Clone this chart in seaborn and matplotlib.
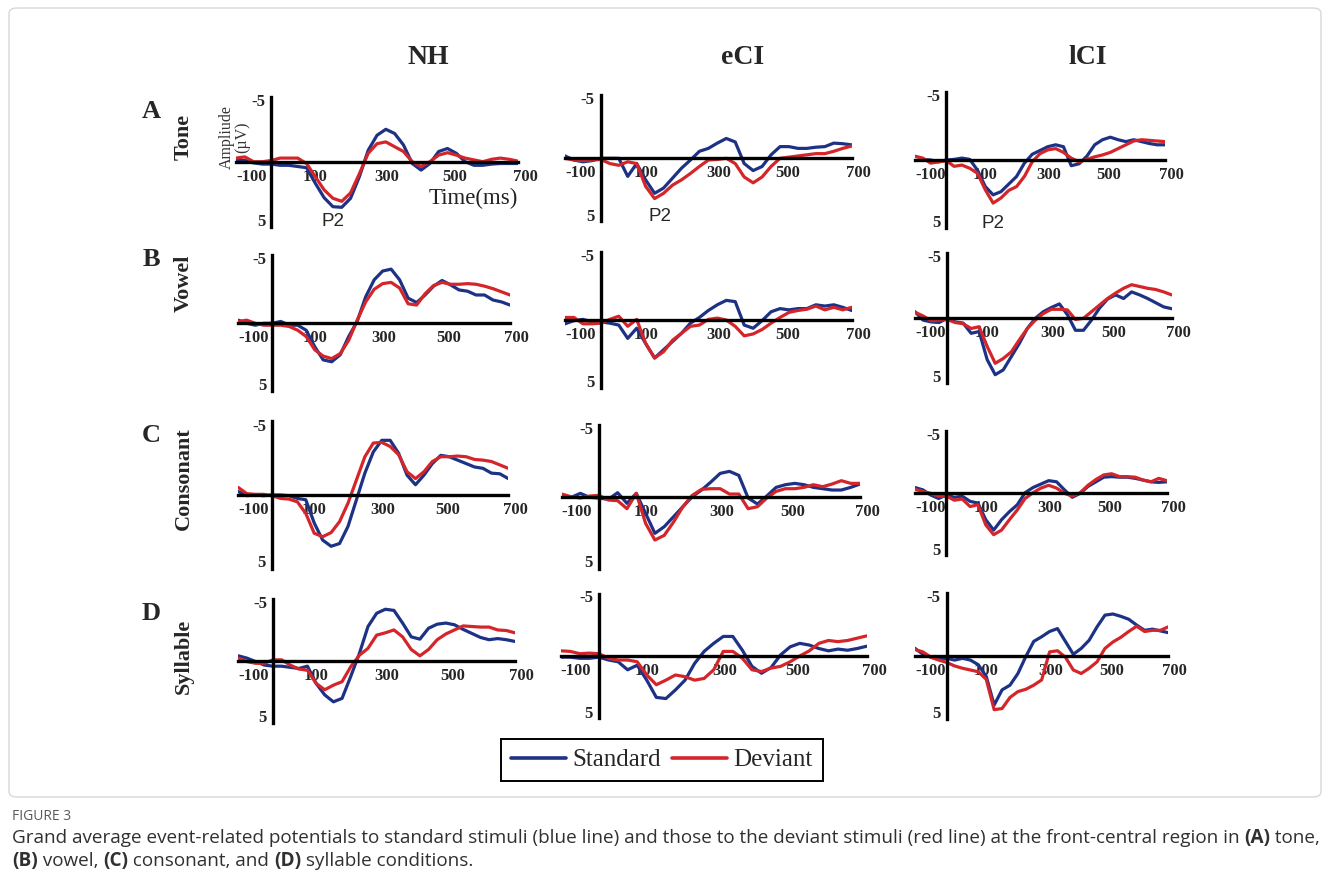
import pandas as pd
import seaborn as sns
import matplotlib.pyplot as plt
from matplotlib.lines import Line2D
from matplotlib.patches import FancyBboxPatch

# time axis of every waveform (ms)
times = list(range(-100, 701, 25))

# grand averages in µV (negative is drawn upward)
nh_tone_std = [-0.1, -0.1, 0.1, 0.2, 0.2, 0.3, 0.3, 0.4, 0.5, 1.8, 3.0, 3.75, 3.8, 3.05, 1.25, -0.95, -2.2,
               -2.7, -2.35, -1.4, 0.15, 0.7, 0.15, -0.85, -1.1, -0.7, 0.0, 0.3, 0.3, 0.2, 0.15, 0.15, 0.15]
nh_tone_dev = [-0.3, -0.4, 0.0, 0.0, -0.1, -0.3, -0.3, -0.3, 0.15, 1.25, 2.35, 3.05, 3.3, 2.6, 1.0, -0.7, -1.5,
               -1.65, -1.25, -0.85, 0.0, 0.4, 0.0, -0.55, -0.75, -0.55, -0.3, -0.15, 0.0, -0.2, -0.3, -0.2, -0.05]
eci_tone_std = [-0.2, 0.15, 0.3, 0.2, 0.0, 0.0, 0.0, 1.55, 0.45, 1.85, 3.0, 2.55, 1.7, 0.85, 0.15, -0.6, -0.85,
                -1.3, -1.7, -1.4, 0.45, 1.05, 0.7, -0.3, -1.0, -1.0, -0.85, -0.85, -0.95, -1.0, -1.3, -1.25, -1.15]
eci_tone_dev = [0.0, 0.15, 0.2, 0.15, 0.1, 0.45, 0.6, 0.3, 0.45, 2.4, 3.45, 3.0, 2.3, 1.85, 1.3, 0.7, 0.15,
                0.1, 0.0, 0.45, 1.6, 2.1, 1.6, 0.7, 0.0, -0.1, -0.2, -0.3, -0.4, -0.4, -0.6, -0.85, -1.05]
lci_tone_std = [0.05, -0.05, 0.0, 0.15, 0.0, -0.05, -0.15, -0.05, 0.8, 2.1, 2.75, 2.5, 1.9, 1.3, 0.25, -0.45, -0.75,
                -1.05, -1.2, -1.05, 0.45, 0.3, -0.3, -1.2, -1.6, -1.8, -1.6, -1.45, -1.6, -1.45, -1.3, -1.2, -1.2]
lci_tone_dev = [-0.3, -0.15, 0.25, 0.15, 0.05, 0.5, 0.4, 0.65, 1.05, 2.35, 3.4, 3.0, 2.4, 2.1, 1.3, 0.15, -0.5,
                -0.8, -0.9, -0.6, -0.15, 0.15, -0.05, -0.25, -0.4, -0.6, -0.9, -1.2, -1.5, -1.6, -1.55, -1.5, -1.45]

nh_vowel_std = [-0.2, 0.05, 0.2, 0.05, 0.05, -0.1, 0.2, 0.2, 0.6, 1.9, 2.95, 3.1, 2.55, 1.1, -0.1, -2.05, -3.4,
                -4.1, -4.25, -3.4, -1.95, -1.6, -2.2, -2.9, -3.35, -3.0, -2.6, -2.5, -2.2, -2.2, -1.8, -1.65, -1.4]
nh_vowel_dev = [-0.1, -0.2, 0.05, 0.2, 0.2, 0.2, 0.3, 0.6, 1.1, 2.15, 2.65, 2.85, 2.45, 1.4, -0.2, -1.65, -2.65,
                -3.1, -3.2, -2.75, -1.5, -1.4, -2.3, -2.95, -3.2, -3.05, -3.05, -3.1, -3.05, -2.9, -2.7, -2.45, -2.2]
eci_vowel_std = [0.3, 0.05, -0.05, 0.15, 0.15, 0.25, 0.4, 1.45, 0.65, 1.85, 3.0, 2.35, 1.7, 1.05, 0.25, -0.2, -0.75,
                 -1.2, -1.55, -1.45, 0.4, 0.65, 0.05, -0.65, -0.9, -0.8, -0.9, -0.9, -1.2, -1.1, -1.2, -1.0, -0.75]
eci_vowel_dev = [-0.2, -0.2, 0.3, 0.3, 0.25, -0.05, -0.3, 0.5, -0.05, 1.85, 3.0, 2.5, 1.6, 1.05, 0.5, 0.4, -0.05,
                 -0.15, 0.0, 0.5, 1.25, 1.1, 0.75, 0.25, -0.2, -0.6, -0.75, -0.85, -1.1, -0.8, -1.0, -0.8, -1.0]
lci_vowel_std = [-0.55, 0.15, 0.3, 0.35, 0.0, 0.3, 0.4, 1.25, 1.1, 3.45, 4.7, 4.3, 3.2, 2.1, 0.85, 0.0, -0.55,
                 -0.9, -1.2, -0.3, 1.0, 1.0, 0.15, -0.85, -1.6, -1.95, -1.65, -2.2, -1.95, -1.65, -1.3, -0.95, -0.8]
lci_vowel_dev = [-0.5, -0.2, 0.2, 0.15, 0.1, 0.35, 0.45, 0.85, 0.7, 2.35, 3.75, 3.35, 2.8, 1.8, 0.85, 0.15, -0.4,
                 -0.75, -0.75, -0.7, 0.1, 0.0, -0.55, -1.1, -1.65, -2.1, -2.5, -2.8, -2.65, -2.5, -2.4, -2.2, -1.95]

nh_cons_std = [-0.25, 0.05, 0.0, 0.05, 0.0, 0.0, 0.05, 0.25, 0.35, 2.05, 3.3, 3.75, 3.55, 2.3, 0.35, -1.6, -3.15,
               -4.0, -4.0, -3.05, -1.45, -0.75, -1.45, -2.3, -2.9, -2.8, -2.55, -2.3, -2.05, -1.95, -1.6, -1.55, -1.2]
nh_cons_dev = [-0.55, -0.1, -0.05, -0.05, 0.05, 0.25, 0.3, 0.5, 1.35, 2.8, 3.05, 2.75, 1.95, 0.6, -1.1, -2.8, -3.8,
               -3.85, -3.55, -2.95, -1.7, -1.2, -1.7, -2.45, -2.8, -2.8, -2.85, -2.8, -2.6, -2.55, -2.45, -2.2, -1.95]
eci_cons_std = [-0.05, 0.05, -0.25, 0.05, 0.1, 0.2, -0.3, 0.5, -0.25, 1.25, 2.75, 2.25, 1.5, 0.75, 0.0, -0.5, -1.1,
                -1.75, -1.9, -1.6, 0.1, 0.55, -0.05, -0.7, -0.9, -1.0, -0.9, -0.7, -0.6, -0.5, -0.5, -0.7, -0.95]
eci_cons_dev = [-0.2, 0.0, 0.1, -0.05, -0.1, 0.25, 0.3, 0.9, -0.25, 2.0, 3.25, 2.9, 1.9, 0.75, -0.1, -0.55, -0.6,
                -0.6, -0.2, -0.2, 0.9, 0.75, 0.1, -0.4, -0.6, -0.6, -0.7, -0.9, -0.75, -0.95, -1.2, -1.0, -1.0]
lci_cons_std = [-0.5, -0.3, 0.15, 0.45, 0.15, 0.35, 0.25, 0.7, 0.85, 2.3, 3.2, 2.3, 1.6, 1.0, -0.05, -0.5, -0.8,
                -1.1, -1.0, -0.3, 0.35, 0.0, -0.6, -1.0, -1.4, -1.45, -1.4, -1.4, -1.3, -1.15, -1.0, -0.95, -1.0]
lci_cons_dev = [-0.35, -0.15, 0.0, 0.25, 0.25, 0.6, 0.5, 1.15, 1.0, 2.75, 3.6, 3.2, 2.3, 1.45, 0.45, -0.05, -0.45,
                -0.7, -0.45, 0.0, 0.25, -0.05, -0.7, -1.2, -1.6, -1.7, -1.45, -1.45, -1.4, -1.15, -1.0, -1.3, -1.1]

nh_syl_std = [-0.45, -0.25, 0.05, 0.35, 0.45, 0.45, 0.55, 0.65, 0.45, 1.95, 2.95, 3.55, 3.25, 1.35, -0.65, -3.0, -4.15,
              -4.5, -4.4, -3.3, -2.1, -1.9, -2.85, -3.2, -3.3, -3.15, -2.75, -2.4, -2.05, -1.85, -1.95, -1.85, -1.7]
nh_syl_dev = [-0.25, 0.05, 0.2, 0.2, -0.1, -0.1, 0.35, 0.7, 0.8, 1.95, 2.5, 2.1, 1.8, 0.5, -0.5, -1.1, -2.25,
              -2.45, -2.7, -2.1, -1.0, -0.45, -1.0, -1.85, -2.35, -2.7, -3.05, -3.0, -2.95, -2.95, -2.7, -2.65, -2.45]
eci_syl_std = [0.1, 0.1, 0.2, 0.2, 0.1, 0.35, 0.5, 1.2, 0.8, 2.1, 3.6, 3.7, 2.95, 2.1, 0.65, -0.4, -1.1,
               -1.7, -1.7, -0.5, 0.9, 1.5, 1.0, -0.1, -0.8, -1.1, -0.95, -0.65, -0.45, -0.6, -0.5, -0.65, -0.85]
eci_syl_dev = [-0.45, -0.4, -0.2, -0.25, -0.2, 0.2, 0.35, 0.35, 0.5, 1.65, 2.5, 2.1, 1.65, 1.8, 2.1, 1.95, 1.2,
               -0.4, -0.4, 0.2, 1.2, 1.35, 1.05, 0.9, 0.5, 0.0, -0.45, -1.1, -1.35, -1.25, -1.35, -1.55, -1.75]
lci_syl_std = [-0.65, -0.15, 0.1, 0.3, 0.2, 0.35, 0.2, 0.35, 0.75, 1.75, 4.2, 2.9, 2.5, 1.5, 0.05, -1.25, -1.65,
               -2.1, -2.35, -1.25, -0.15, -0.65, -1.35, -2.5, -3.5, -3.6, -3.4, -3.15, -2.65, -2.2, -2.3, -2.15, -2.0]
lci_syl_dev = [-0.55, -0.35, 0.1, 0.35, 0.55, 0.85, 1.05, 1.2, 1.35, 2.0, 4.6, 4.5, 3.55, 3.05, 2.85, 2.5, 2.05,
               -0.35, -0.45, 0.1, 1.2, 1.5, 1.05, 0.5, -0.65, -1.2, -1.6, -2.1, -2.55, -2.1, -2.2, -2.2, -2.5]

groups = ["NH", "eCI", "lCI"]
conditions = ["Tone", "Vowel", "Consonant", "Syllable"]
letters = ["A", "B", "C", "D"]
x_tick_labels = ["-100", "100", "300", "500", "700"]

waves = {
    ("Tone", "NH"): (nh_tone_std, nh_tone_dev),
    ("Tone", "eCI"): (eci_tone_std, eci_tone_dev),
    ("Tone", "lCI"): (lci_tone_std, lci_tone_dev),
    ("Vowel", "NH"): (nh_vowel_std, nh_vowel_dev),
    ("Vowel", "eCI"): (eci_vowel_std, eci_vowel_dev),
    ("Vowel", "lCI"): (lci_vowel_std, lci_vowel_dev),
    ("Consonant", "NH"): (nh_cons_std, nh_cons_dev),
    ("Consonant", "eCI"): (eci_cons_std, eci_cons_dev),
    ("Consonant", "lCI"): (lci_cons_std, lci_cons_dev),
    ("Syllable", "NH"): (nh_syl_std, nh_syl_dev),
    ("Syllable", "eCI"): (eci_syl_std, eci_syl_dev),
    ("Syllable", "lCI"): (lci_syl_std, lci_syl_dev),
}

W, H = 1330, 894
BLUE = "#1d3285"
RED = "#d4262a"
SERIF = "Liberation Serif"
YL = 5.4

# panel geometry in pixels: x at -100 ms, x at 700 ms, y of 0 µV, px per µV
boxes = [
    [(236, 518, 161.7, 12.0), (565, 851.7, 158.3, 11.67), (915, 1165, 160, 12.67)],
    [(238.3, 510, 322.7, 12.6), (565, 851.7, 320, 12.67), (915, 1171.7, 318.3, 12.0)],
    [(238.3, 508.3, 495, 13.67), (561.7, 860, 496.7, 13.33), (915, 1166.7, 493.3, 11.5)],
    [(238.3, 515, 661, 11.5), (560.7, 866.7, 656, 11.5), (915, 1168.3, 656, 11.67)],
]


def fx(x):
    return x / W


def fy(y):
    return 1 - y / H


sns.set_style("white")
plt.rcParams["font.family"] = [SERIF, "DejaVu Sans"]

fig = plt.figure(figsize=(W / 100, H / 100), dpi=100)

for r, cond in enumerate(conditions):
    for c, grp in enumerate(groups):
        x0, x1, zy, s = boxes[r][c]
        ax = fig.add_axes([fx(x0), fy(zy + YL * s), (x1 - x0) / W, 2 * YL * s / H])
        std, dev = waves[(cond, grp)]
        df = pd.DataFrame({"time": times + times,
                           "amp": std + dev,
                           "stim": ["Standard"] * len(times) + ["Deviant"] * len(times)})
        sns.lineplot(data=df, x="time", y="amp", hue="stim", hue_order=["Standard", "Deviant"],
                     palette={"Standard": BLUE, "Deviant": RED}, linewidth=2.3,
                     errorbar=None, legend=False, ax=ax)
        ax.set_xlim(-100, 700)
        ax.set_ylim(YL, -YL)
        ax.set_facecolor("none")
        ax.set_xlabel("")
        ax.set_ylabel("")
        for side in ["top", "right"]:
            ax.spines[side].set_visible(False)
        ax.spines["left"].set_position(("data", 0))
        ax.spines["bottom"].set_position(("data", 0))
        for side in ["left", "bottom"]:
            ax.spines[side].set_linewidth(2.4)
            ax.spines[side].set_color("black")
        ax.set_xticks(range(-100, 701, 100))
        ax.set_xticklabels([])
        ax.set_yticks([])
        ax.tick_params(axis="x", direction="out", length=4, width=1.0, color="black")

        # tick labels sit just under the zero line
        for lab, pos in zip(x_tick_labels, [-100, 125, 328, 520, 720]):
            ax.annotate(lab, xy=(pos, 0), xytext=(0, -15), textcoords="offset pixels",
                        ha="left" if lab == "-100" else "center", va="center",
                        fontsize=12, fontweight="bold", zorder=1, annotation_clip=False)
        for v in [-5, 5]:
            ax.annotate(str(v), xy=(0, v), xytext=(-6, 0), textcoords="offset pixels",
                        ha="right", va="center", fontsize=12, fontweight="bold", annotation_clip=False)

        if r == 0:
            ax.annotate("P2", xy=([175, 165, 150][c], 5), xytext=(0, 0), textcoords="offset pixels",
                        ha="center", va="center", fontsize=13.5, family="Liberation Sans",
                        annotation_clip=False)

# column headers and row labels
for name, x in zip(groups, [428, 743, 1088]):
    fig.text(fx(x), fy(57), name, ha="center", va="center", fontsize=20, fontweight="bold")
for let, cond, ly, cy in zip(letters, conditions, [112, 260, 435, 613], [137, 283, 479, 656]):
    fig.text(fx(151), fy(ly), let, ha="center", va="center", fontsize=19, fontweight="bold")
    fig.text(fx(184), fy(cy), cond, ha="center", va="center", rotation=90, fontsize=16, fontweight="bold")

fig.text(fx(235), fy(137), "Ampliude\n(µV)", ha="center", va="center", rotation=90,
         fontsize=11.5, linespacing=0.95, color="#333333")
fig.text(fx(473), fy(198), "Time(ms)", ha="center", va="center", fontsize=16.5, color="#222222")

handles = [Line2D([], [], color=BLUE, lw=2.6), Line2D([], [], color=RED, lw=2.6)]
leg = fig.legend(handles, ["Standard", "Deviant"], loc="center", bbox_to_anchor=(fx(662), fy(760)),
                 ncol=2, frameon=True, fancybox=False, edgecolor="black", framealpha=1,
                 prop={"family": SERIF, "size": 18}, handlelength=2.2, handletextpad=0.25,
                 columnspacing=0.45, borderpad=0.4)
leg.get_frame().set_linewidth(1.4)

# light frame around the figure area
fig.patches.append(FancyBboxPatch((fx(9), fy(797)), fx(1312), 789 / H, boxstyle="round,pad=0,rounding_size=0.006",
                                  transform=fig.transFigure, facecolor="none", edgecolor="#d8d8d8", lw=1.0))

# caption
fig.text(fx(12), fy(816), "FIGURE 3", fontsize=10, color="#5a5a5a", family="Open Sans", va="center")
renderer = fig.canvas.get_renderer()


def caption_line(y, parts):
    x = 12
    for txt, bold in parts:
        t = fig.text(fx(x), fy(y), txt, fontsize=13.55, family="Open Sans", color="#303030", va="center",
                     fontweight="bold" if bold else "normal")
        x = t.get_window_extent(renderer).x1


caption_line(838, [("Grand average event-related potentials to standard stimuli (blue line) and those to the "
                    "deviant stimuli (red line) at the front-central region in ", False),
                   ("(A)", True), (" tone,", False)])
caption_line(861, [("(B)", True), (" vowel, ", False), ("(C)", True), (" consonant, and ", False),
                   ("(D)", True), (" syllable conditions.", False)])

fig.savefig("out.png", dpi=100, facecolor="white")
